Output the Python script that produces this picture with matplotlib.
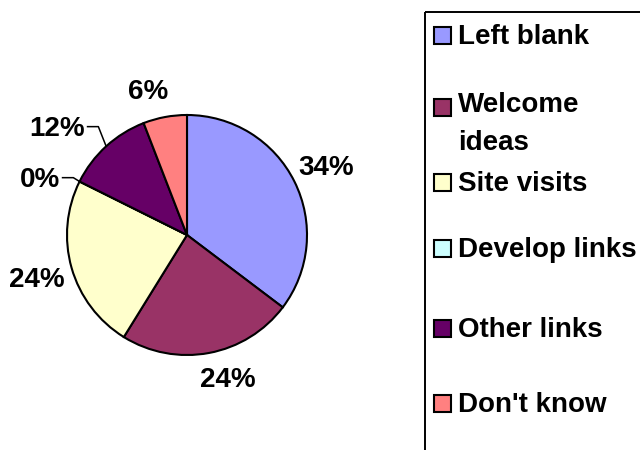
import numpy as np
import matplotlib.pyplot as plt
from matplotlib.patches import Rectangle

plt.rcParams['font.family'] = ['Liberation Sans', 'DejaVu Sans']
plt.rcParams['font.weight'] = 'bold'

categories = ["Left blank", "Welcome\nideas", "Site visits", "Develop links", "Other links", "Don't know"]
# slice sizes as drawn (responses), and the percentage labels as printed on the chart
counts = [6, 4, 4, 0, 2, 1]
pct_labels = ["34%", "24%", "24%", "0%", "12%", "6%"]
colors = ["#9999FF", "#993366", "#FFFFCC", "#CCFFFF", "#660066", "#FF8080"]

fig = plt.figure(figsize=(6.4, 4.5), dpi=100)

# pie axes, 384px square, centre at (187, 215) px from bottom left
ax = fig.add_axes([(187 - 192) / 640, (215 - 192) / 450, 384 / 640, 384 / 450])
wedges, _ = ax.pie(counts, colors=colors, startangle=90, counterclock=False,
                   wedgeprops=dict(edgecolor="black", linewidth=1.5))
ax.set_xlim(-1.6, 1.6)
ax.set_ylim(-1.6, 1.6)

# labels that were moved by hand in the original
leaders = {"Develop links": (-0.052, 0.032), "Other links": (-0.065, 0.164)}
nudges = {"Welcome\nideas": (0.10, 0.09), "Don't know": (-0.083, -0.067)}

for w, name, lab in zip(wedges, categories, pct_labels):
    mid = np.deg2rad((w.theta1 + w.theta2) / 2)
    px, py = np.cos(mid), np.sin(mid)
    if name in leaders:
        dx, dy = leaders[name]
        ex, ey = px + dx, py + dy
        ax.plot([px, ex, ex - 0.09], [py, ey, ey], color="black", lw=1.1)
        ax.text(ex - 0.11, ey - 0.02, lab, ha="right", va="center", fontsize=20, fontweight="heavy")
    else:
        nx, ny = nudges.get(name, (0, 0))
        ax.text(1.3 * px + nx, 1.3 * py + ny - 0.02, lab, ha="center", va="center", fontsize=20,
                fontweight="heavy")

# legend drawn by hand in pixel coords (box runs off the figure)
lax = fig.add_axes([0, 0, 1, 1])
lax.set_xlim(0, 640)
lax.set_ylim(450, 0)
lax.axis("off")
lax.add_patch(Rectangle((425, 11.7), 300, 500, fill=False, edgecolor="black", lw=1.4))
rows = [35, 107, 182.5, 248, 328, 403]
for y, name, c in zip(rows, categories, colors):
    lax.add_patch(Rectangle((433.5, y - 8.5), 17, 17, facecolor=c, edgecolor="black", lw=1.5))
    nlines = name.count("\n")
    lax.text(458, y + 8.7 + 34.3 * nlines, name, ha="left", va="baseline", fontsize=20,
             fontweight="heavy", linespacing=1.6)

fig.savefig("out.png", dpi=100)
